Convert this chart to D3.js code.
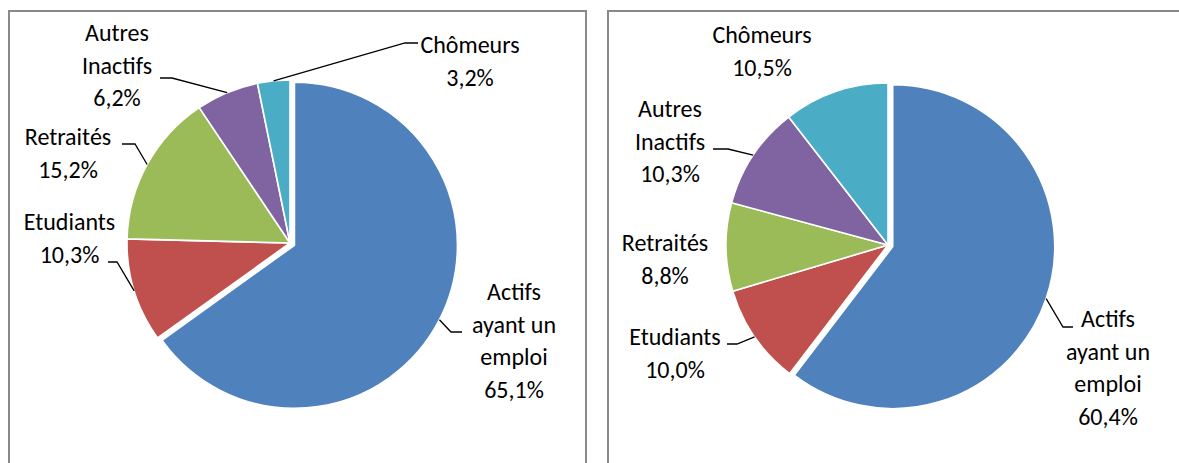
<!DOCTYPE html>
<html>
<head>
<meta charset="utf-8">
<script src="https://cdn.jsdelivr.net/npm/d3@7/dist/d3.min.js"></script>
<style>
  html, body { margin: 0; padding: 0; background: #ffffff; }
  svg { display: block; }
  text { font-family: Carlito, Calibri, Lato, sans-serif; fill: #000; }
</style>
</head>
<body>
<svg id="chart" width="1179" height="463"></svg>
<script>
// Categories (population by activity status), in pie order, clockwise from 12 o'clock
const categories = ["Actifs ayant un emploi", "Etudiants", "Retraités", "Autres Inactifs", "Chômeurs"];
const categoryLines = [["Actifs", "ayant un", "emploi"], ["Etudiants"], ["Retraités"], ["Autres", "Inactifs"], ["Chômeurs"]];

// Shares in percent
const valuesLeft = [65.1, 10.3, 15.2, 6.2, 3.2];
const valuesRight = [60.4, 10.0, 8.8, 10.3, 10.5];

const colors = ["#4F81BD", "#C0504D", "#9BBB59", "#8064A2", "#4BACC6"];

// Layout of each panel: pie centre, radius, and label placement (x centre, first baseline, leader elbow)
const panels = [
  {
    values: valuesLeft,
    frame: { x: 9, y: 11, w: 577 },
    cx: 290, cy: 243, r: 163,
    labels: [
      { x: 514, y: 300, leader: [[451, 332], [462, 332]] },
      { x: 69.5, y: 230, leader: [[117, 262], [108, 262]] },
      { x: 68, y: 145, leader: [[135, 144], [122, 144]] },
      { x: 117, y: 41, leader: [[172, 78], [160, 78]] },
      { x: 470, y: 53, leader: [[405, 43], [418, 43]] }
    ]
  },
  {
    values: valuesRight,
    frame: { x: 608, y: 11, w: 600 },
    cx: 888, cy: 245, r: 162,
    labels: [
      { x: 1108, y: 327, leader: [[1063, 327], [1073, 327]] },
      { x: 675, y: 345, leader: [[737, 344], [727, 344]] },
      { x: 665, y: 251, leader: null },
      { x: 670, y: 117, leader: [[728, 149], [713, 149]] },
      { x: 762, y: 43, leader: null }
    ]
  }
];

const fmt = v => d3.format(".1f")(v).replace(".", ",") + "%";
const lineHeight = 32.5;
const explode = 5; // first slice pulled out from the centre

const svg = d3.select("#chart");

const pie = d3.pie().sort(null).value(d => d.value);

panels.forEach(p => {
  // panel frame (open at the bottom edge of the view)
  svg.append("rect")
    .attr("x", p.frame.x).attr("y", p.frame.y)
    .attr("width", p.frame.w).attr("height", 500)
    .attr("fill", "none")
    .attr("stroke", "#898989")
    .attr("stroke-width", 2);

  const data = categories.map((c, i) => ({ name: c, lines: categoryLines[i], value: p.values[i], color: colors[i], label: p.labels[i] }));
  const arcs = pie(data);
  const arc = d3.arc().innerRadius(0).outerRadius(p.r);

  const g = svg.append("g").attr("transform", `translate(${p.cx},${p.cy})`);

  const offset = (d, i) => {
    if (i !== 0) return [0, 0];
    const a = (d.startAngle + d.endAngle) / 2;
    return [Math.sin(a) * explode, -Math.cos(a) * explode];
  };

  g.selectAll("path.slice")
    .data(arcs)
    .join("path")
    .attr("class", "slice")
    .attr("d", arc)
    .attr("transform", (d, i) => { const o = offset(d, i); return `translate(${o[0]},${o[1]})`; })
    .attr("fill", d => d.data.color)
    .attr("stroke", "#ffffff")
    .attr("stroke-width", 1.6)
    .attr("stroke-linejoin", "round");

  // leader lines: from the slice edge at its mid-angle to the label
  arcs.forEach((d, i) => {
    const L = d.data.label;
    if (!L.leader) return;
    const a = (d.startAngle + d.endAngle) / 2;
    const o = offset(d, i);
    const sx = p.cx + o[0] + Math.sin(a) * p.r;
    const sy = p.cy + o[1] - Math.cos(a) * p.r;
    const pts = [[sx, sy]].concat(L.leader);
    svg.append("path")
      .attr("d", d3.line()(pts))
      .attr("fill", "none")
      .attr("stroke", "#000")
      .attr("stroke-width", 1.3);
  });

  // category name and share
  arcs.forEach(d => {
    const L = d.data.label;
    const lines = d.data.lines.concat([fmt(d.data.value)]);
    const t = svg.append("text")
      .attr("text-anchor", "middle")
      .attr("font-size", 24);
    lines.forEach((s, k) => {
      t.append("tspan").attr("x", L.x).attr("y", L.y + k * lineHeight).text(s);
    });
  });
});
</script>
</body>
</html>
